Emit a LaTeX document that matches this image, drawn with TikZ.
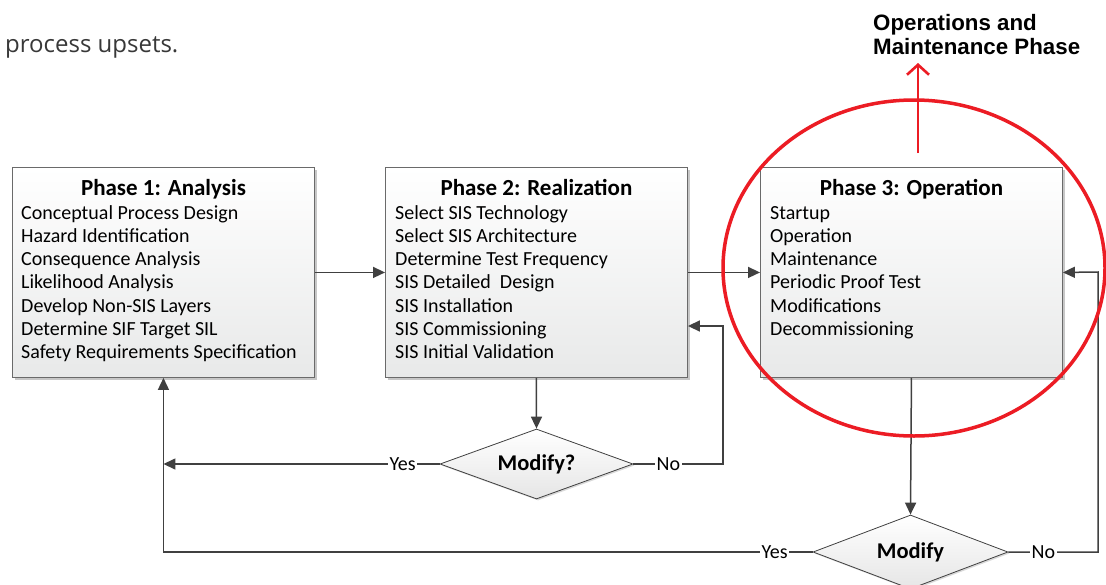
\documentclass[tikz,border=0pt]{standalone}
\usepackage{fontspec}
\setmainfont{Carlito}
\newfontfamily\headfont{Liberation Sans}
\newfontfamily\introfont{Open Sans}
\usetikzlibrary{arrows.meta,shapes.geometric,shadows,calc}

\definecolor{linegray}{HTML}{404040}
\definecolor{boxedge}{HTML}{6A6A6A}
\definecolor{boxbottom}{HTML}{E8E9E9}
\definecolor{markred}{HTML}{EC1C24}

\tikzset{
  phasebox/.style={draw=boxedge, line width=0.9pt, top color=white, bottom color=boxbottom,
    minimum width=302pt, minimum height=210pt, inner sep=0pt, anchor=north west,
    drop shadow={shadow xshift=2.5pt, shadow yshift=-2.5pt, fill=black!22, opacity=1}},
  phasetitle/.style={anchor=base, inner sep=0pt, font=\bfseries\fontsize{23}{26}\selectfont},
  phaseitem/.style={anchor=base west, inner sep=0pt, font=\fontsize{20}{23}\selectfont},
  decision/.style={diamond, shape aspect=2.8, draw=linegray, line width=0.8pt, top color=white, bottom color=black!10,
    inner sep=0pt, font=\bfseries\fontsize{22.5}{25}\selectfont,
    drop shadow={shadow xshift=1.5pt, shadow yshift=-1.5pt, fill=black!15, opacity=1}},
  flow/.style={draw=linegray, line width=1.5pt, -{Triangle[length=12pt,width=11pt]}},
  choice/.style={fill=white, inner sep=1.5pt, font=\fontsize{20}{23}\selectfont},
  redlabel/.style={anchor=base west, inner sep=0pt, font=\headfont\bfseries\fontsize{22.3}{26}\selectfont},
}

\begin{document}
\begin{tikzpicture}[x=1pt, y=-1pt]
  \useasboundingbox[fill=white] (0,0) rectangle (1106,584);

  % lead-in text
  \node[anchor=base west, inner sep=0pt, font=\introfont\fontsize{24}{28}\selectfont, text=black!78]
    (intro) at (5,52) {process upsets.};

  % the three phase boxes
  \node[phasebox] (p1) at (12,167) {};
  \node[phasebox] (p2) at (385,167) {};
  \node[phasebox] (p3) at (760,167) {};

  \node[phasetitle] (p1title) at (p1.north |- 0,195) {Phase 1: Analysis};
  \node[phasetitle] (p2title) at (p2.north |- 0,195) {Phase 2: Realization};
  \node[phasetitle] (p3title) at (p3.north |- 0,195) {Phase 3: Operation};

  \foreach \t [count=\i] in {Conceptual Process Design, Hazard Identification,
      Consequence Analysis, Likelihood Analysis, Develop Non-SIS Layers,
      Determine SIF Target SIL, Safety Requirements Specification}
    \node[phaseitem] (p1item\i) at (21, {219+(\i-1)*23.3}) {\t};

  \foreach \t [count=\i] in {Select SIS Technology, Select SIS Architecture,
      Determine Test Frequency, SIS Detailed~ Design, SIS Installation,
      SIS Commissioning, SIS Initial Validation}
    \node[phaseitem] (p2item\i) at (395, {219+(\i-1)*23.3}) {\t};

  \foreach \t [count=\i] in {Startup, Operation, Maintenance, Periodic Proof Test,
      Modifications, Decommissioning}
    \node[phaseitem] (p3item\i) at (770, {219+(\i-1)*23.3}) {\t};

  % decisions
  \node[decision, minimum width=193pt, minimum height=70pt] (d1) at (536.5,464) {Modify?};
  \node[decision, minimum width=195pt, minimum height=74pt] (d2) at (910.5,552) {Modify};

  % forward flow
  \draw[flow] (p1.east) -- (p2.west);
  \draw[flow] (p2.east) -- (p3.west);
  \draw[flow] (p2.south) -- (d1.north);
  \draw[flow] (p3.south) -- (d2.north);

  % first decision: back to analysis or stay in realization
  \coordinate (d1noturn) at (723,464);
  \coordinate (d1noup) at (723,326);
  \draw[flow] (d1.west) -- (p1.south |- d1.west);
  \draw[flow] (d1.east) -- (d1noturn) -- (d1noup) -- (p2.east |- d1noup);
  \node[choice] (d1yes) at ($(d1.west)+(-37,0)$) {Yes};
  \node[choice] (d1no) at ($(d1.east)+(35,0)$) {No};

  % second decision: back to analysis or stay in operation
  \coordinate (d2noturn) at (1098,552);
  \coordinate (d2noup) at (1098,272);
  \draw[flow] (d2.west) -- (p1.south |- d2.west) -- (p1.south);
  \draw[flow] (d2.east) -- (d2noturn) -- (d2noup) -- (p3.east);
  \node[choice] (d2yes) at ($(d2.west)+(-38,0)$) {Yes};
  \node[choice] (d2no) at ($(d2.east)+(35,0)$) {No};

  % highlight of the operation phase
  \draw[markred, line width=3.5pt] (914,268) ellipse [x radius=191, y radius=168];
  \node[redlabel] (mlabel1) at (873,30) {Operations and};
  \node[redlabel] (mlabel2) at (873,54) {Maintenance Phase};
  \coordinate (mstart) at (918,153);
  \coordinate (mtip) at (918,63);
  \draw[markred, line width=2.6pt, -{Straight Barb[length=10pt,width=22pt]}] (mstart) -- (mtip);
\end{tikzpicture}
\end{document}
